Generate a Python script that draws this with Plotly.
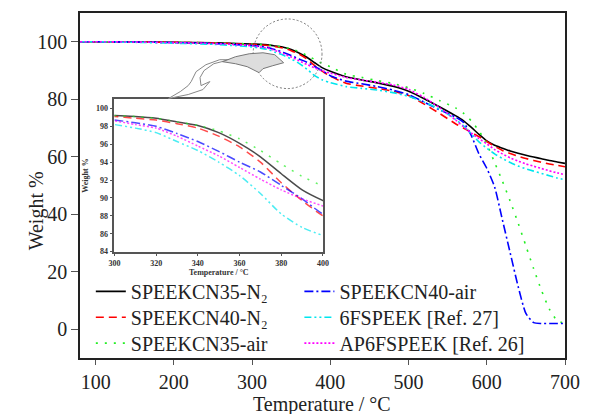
import plotly.graph_objects as go

# ---------------- data ----------------
temps = [80, 100, 150, 200, 250, 280, 300, 310, 320, 330, 340, 350, 360, 370, 380, 390, 400,
         420, 440, 460, 480, 500, 520, 540, 560, 570, 580, 590, 600, 610, 620, 630, 640, 650,
         660, 670, 680, 690, 700]

speekcn35_n2 = [100, 100, 99.9, 99.8, 99.6, 99.4, 99.2, 99.1, 98.9, 98.5, 98.1, 97.3, 96.1, 94.6,
                92.7, 90.9, 89.7, 87.8, 86.7, 85.7, 84.5, 82.8, 80.2, 77.3, 74.3, 72.6, 70.3, 67.8,
                65.5, 64.0, 63.0, 62.0, 61.2, 60.5, 59.9, 59.3, 58.7, 58.2, 57.7]
speekcn40_n2 = [100, 100, 99.9, 99.8, 99.6, 99.3, 99.1, 98.9, 98.7, 98.3, 97.8, 96.9, 95.7, 94.0,
                91.7, 89.7, 88.0, 85.6, 84.6, 83.8, 82.8, 81.3, 78.3, 75.0, 71.5, 70.0, 68.5, 67.0,
                65.3, 63.6, 62.2, 61.1, 60.2, 59.4, 58.7, 58.1, 57.5, 57.0, 56.5]
speekcn35_air = [100, 100, 99.9, 99.8, 99.6, 99.4, 99.2, 99.1, 98.9, 98.5, 98.1, 97.5, 96.6, 95.3,
                 93.8, 92.4, 91.3, 88.7, 87.6, 86.5, 85.5, 84.0, 82.0, 79.5, 77.0, 75.2, 72.5, 69.0,
                 64.5, 58.0, 51.5, 44.5, 37.0, 29.0, 21.0, 13.5, 7.0, 3.0, 2.0]
speekcn40_air = [100, 100, 99.9, 99.7, 99.4, 99.0, 98.7, 98.4, 98.0, 97.2, 96.3, 95.2, 94.0, 92.9,
                 91.4, 89.9, 88.2, 86.3, 85.4, 84.4, 83.2, 81.6, 79.0, 76.3, 73.8, 72.0, 67.5, 61.0,
                 56.0, 49.5, 38.0, 26.5, 15.0, 5.5, 2.3, 2.0, 2.0, 2.0, 2.0]
fspeek6 = [100, 100, 99.8, 99.5, 99.1, 98.6, 98.2, 97.8, 97.3, 96.3, 95.3, 94.0, 92.5, 90.5,
           88.2, 86.7, 85.8, 84.4, 83.8, 83.2, 82.3, 81.0, 79.0, 76.5, 73.0, 70.8, 68.0, 65.2,
           63.0, 61.0, 59.4, 58.0, 56.8, 55.8, 55.0, 54.2, 53.4, 52.6, 52.0]
ap6fspeek = [100, 100, 99.9, 99.7, 99.4, 99.0, 98.6, 98.2, 97.8, 96.9, 95.8, 94.7, 93.4, 92.1,
             90.9, 89.9, 89.1, 87.6, 86.7, 85.9, 85.0, 83.4, 80.6, 77.0, 72.8, 70.5, 68.3, 66.3,
             64.5, 62.5, 61.0, 59.6, 58.5, 57.5, 56.7, 55.9, 55.1, 54.4, 53.7]

names = ["SPEEKCN35-N\u2082", "SPEEKCN40-N\u2082", "SPEEKCN35-air",
         "SPEEKCN40-air", "6FSPEEK [Ref. 27]", "AP6FSPEEK [Ref. 26]"]
series = [speekcn35_n2, speekcn40_n2, speekcn35_air, speekcn40_air, fspeek6, ap6fspeek]
colors = ["#000000", "#ff0000", "#22ee22", "#0000ff", "#00e5ee", "#ff00ff"]
dashes = ["solid", "8px,5px", "2px,7px", "9px,3px,2px,3px", "7px,3px,2px,3px,2px,3px", "2px,2px"]

x_ticks = [100, 200, 300, 400, 500, 600, 700]
y_ticks = [0, 20, 40, 60, 80, 100]
inset_x_ticks = [300, 320, 340, 360, 380, 400]
inset_y_ticks = [84, 86, 88, 90, 92, 94, 96, 98, 100]

# ---------------- layout helpers ----------------
W, H = 591, 414
ML, MR, MT, MB = 80, 18, 11, 56
PW, PH = W - ML - MR, H - MT - MB


def px(x):
    return (x - ML) / PW


def py(y):
    return 1 - (y - MT) / PH


SERIF = "Liberation Serif"

# legend slots (2 columns x 3 rows), pixel positions of each entry
legend_slots = [(91, 291), (91, 317), (91, 343), (303, 291), (303, 317), (303, 343)]
legend_ids = ["legend", "legend2", "legend3", "legend4", "legend5", "legend6"]

fig = go.Figure()

for nm, s, c, d, lg in zip(names, series, colors, dashes, legend_ids):
    fig.add_trace(go.Scatter(x=temps, y=s, mode="lines", name=nm, legend=lg,
                             line=dict(color=c, width=1.6, dash=d, shape="spline", smoothing=0.6),
                             xaxis="x", yaxis="y"))

for nm, s, c, d in zip(names, series, colors, dashes):
    fig.add_trace(go.Scatter(x=temps, y=s, mode="lines", name=nm, showlegend=False,
                             opacity=0.7,
                             line=dict(color=c, width=1.5, dash=d, shape="spline", smoothing=0.6),
                             xaxis="x2", yaxis="y2"))

# decorative magnifier circle and arrow
cx, cy, r = 291, 52, 35
fig.add_shape(type="circle", xref="paper", yref="paper",
              x0=px(cx - r), x1=px(cx + r), y0=py(cy + r), y1=py(cy - r),
              line=dict(color="#777777", width=1, dash="2px,2px"))


def path(pts, close=True):
    s = "M " + " L ".join(f"{px(a):.4f},{py(b):.4f}" for a, b in pts)
    return s + (" Z" if close else "")


lens = [(225, 60), (238, 55), (252, 52), (266, 51), (278, 53), (287, 61), (276, 64),
        (266, 67), (262, 71), (250, 65), (238, 62)]
arrow = [(232, 58), (216, 62), (206, 69), (202, 76), (203, 84), (212, 80), (205, 88),
         (190, 93), (170, 97), (182, 90), (190, 84), (193, 80), (198, 70), (208, 63), (222, 58)]
fig.add_shape(type="path", xref="paper", yref="paper", path=path(arrow),
              fillcolor="white", line=dict(color="#888888", width=1))
fig.add_shape(type="path", xref="paper", yref="paper", path=path(lens),
              fillcolor="#dddddd", line=dict(color="#777777", width=1))

legend_layout = {}
for lg, (lx, ly) in zip(legend_ids, legend_slots):
    legend_layout[lg] = dict(x=px(lx), y=py(ly), xanchor="left", yanchor="middle",
                             bgcolor="rgba(0,0,0,0)", tracegroupgap=0, itemwidth=30,
                             font=dict(family=SERIF, size=20, color="#222222"))

fig.update_layout(
    width=W, height=H,
    margin=dict(l=ML, r=MR, t=MT, b=MB),
    paper_bgcolor="white", plot_bgcolor="rgba(0,0,0,0)",
    font=dict(family=SERIF, size=20, color="#222222"),
    xaxis=dict(range=[80, 700], tickvals=x_ticks, ticks="outside", ticklen=5, tickwidth=1.2,
               tickcolor="#555555", showline=True, linecolor="#222222", linewidth=1.6,
               mirror=True, showgrid=False, zeroline=False,
               tickfont=dict(family=SERIF, size=20, color="#222222")),
    yaxis=dict(range=[-10, 110], tickvals=y_ticks, ticks="outside", ticklen=7, tickwidth=1.2,
               tickcolor="#555555", showline=True, linecolor="#222222", linewidth=1.6,
               mirror=True, showgrid=False, zeroline=False,
               tickfont=dict(family=SERIF, size=20, color="#222222")),
    xaxis2=dict(domain=[px(115), px(327)], anchor="y2", range=[300, 400], tickvals=inset_x_ticks,
                ticks="outside", ticklen=3, tickcolor="#555555", showline=True,
                linecolor="#555555", linewidth=1.5, mirror=True, showgrid=False, zeroline=False,
                tickfont=dict(family=SERIF, size=8, color="#333333", weight="bold")),
    yaxis2=dict(domain=[py(251), py(98)], anchor="x2", range=[84, 101], tickvals=inset_y_ticks,
                ticks="outside", ticklen=3, tickcolor="#555555", showline=True,
                linecolor="#555555", linewidth=1.5, mirror=True, showgrid=False, zeroline=False,
                tickfont=dict(family=SERIF, size=8, color="#333333", weight="bold"),
                title=dict(text="Weight %", standoff=6,
                           font=dict(family=SERIF, size=8, color="#333333", weight="bold"))),
    annotations=[
        dict(text="Weight %", x=px(22), y=py(210), xref="paper", yref="paper",
             textangle=-90, showarrow=False,
             font=dict(family=SERIF, size=20, color="#222222")),
        dict(text="Temperature / °C", x=px(326), y=py(405), xref="paper", yref="paper",
             xanchor="center", yanchor="middle", showarrow=False,
             font=dict(family=SERIF, size=20, color="#222222")),
        dict(text="Temperature / °C", x=px(221), y=py(272), xref="paper", yref="paper",
             xanchor="center", yanchor="middle", showarrow=False,
             font=dict(family=SERIF, size=8, color="#333333", weight="bold")),
    ],
    **legend_layout,
)

fig.write_html("out.html", config={"displayModeBar": False},
               post_script="document.body.style.margin='0px';")
